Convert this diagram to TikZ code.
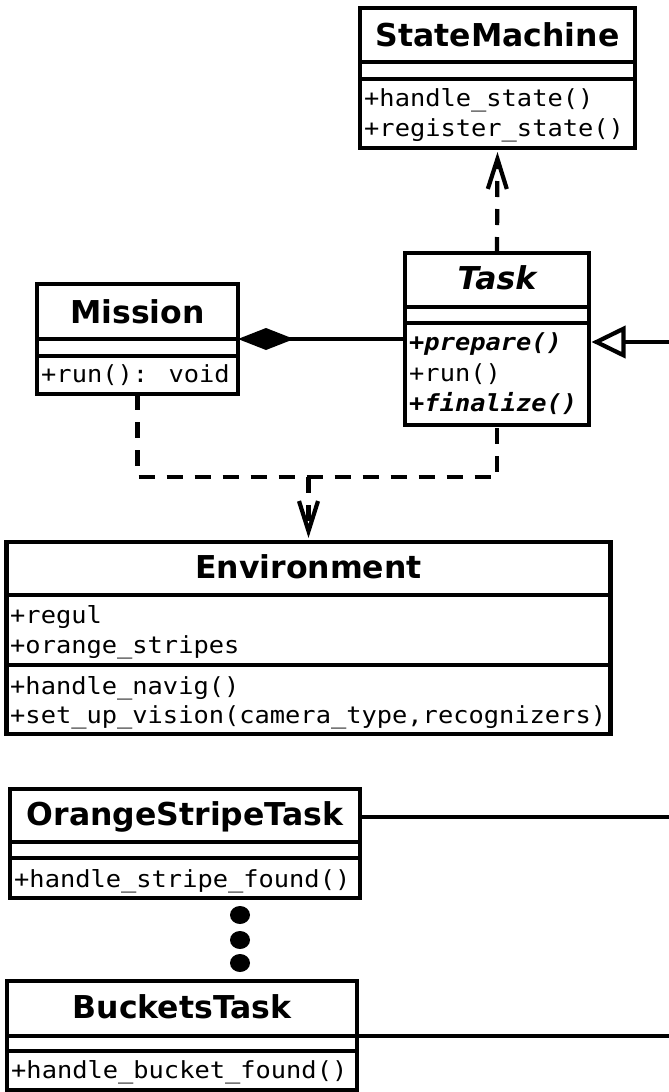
\documentclass[tikz,border=0pt]{standalone}
\usepackage{fontspec}
\newfontfamily\ttl{DejaVu Sans}
\newfontfamily\mono{DejaVu Sans Mono}[FakeStretch=1.08]
\usetikzlibrary{arrows.meta}
\tikzset{
  box/.style={draw, line width=4.2pt, inner sep=0pt, outer sep=0pt, rectangle},
  sep/.style={line width=4.2pt},
  title/.style={anchor=base, inner sep=0pt, font=\ttl\bfseries\fontsize{31.5}{31.5}\selectfont},
  ititle/.style={anchor=base, inner sep=0pt, font=\ttl\bfseries\itshape\fontsize{31.5}{31.5}\selectfont},
  member/.style={anchor=base west, inner sep=0pt, font=\mono\fontsize{23.5}{23.5}\selectfont},
  amember/.style={anchor=base west, inner sep=0pt, font=\mono\bfseries\itshape\fontsize{23.5}{23.5}\selectfont},
  conn/.style={line width=4.2pt},
  dep/.style={line width=4.2pt, dash pattern=on 16pt off 12pt, shorten >=4pt, -{Straight Barb[length=30pt,width=19pt,line width=4.2pt]}},
  dashline/.style={line width=4.2pt, dash pattern=on 16pt off 12pt},
  dotmark/.style={ellipse, fill, inner sep=0pt, minimum width=20pt, minimum height=18pt},
}
\usetikzlibrary{shapes.geometric}
\begin{document}
\begin{tikzpicture}[x=1pt,y=-1pt]
\useasboundingbox (0,0) rectangle (669,1092);

% StateMachine
\node[box, minimum width=275pt, minimum height=140pt, anchor=north west] (sm) at (360,8) {};
\draw[sep] (360,62) -- (635,62);
\draw[sep] (360,79) -- (635,79);
\node[title] (smt) at (497.5,46) {StateMachine};
\node[member] (sm1) at (364,106) {+handle\_state()};
\node[member] (sm2) at (364,136) {+register\_state()};

% Task
\node[box, minimum width=184pt, minimum height=172pt, anchor=north west] (task) at (405,253) {};
\draw[sep] (405,307) -- (589,307);
\draw[sep] (405,323) -- (589,323);
\node[ititle] (taskt) at (497,289) {Task};
\node[amember] (t1) at (409,350) {+prepare()};
\node[member] (t2) at (409,381) {+run()};
\node[amember] (t3) at (409,411) {+finalize()};

% Mission
\node[box, minimum width=201pt, minimum height=110pt, anchor=north west] (mission) at (37,284) {};
\draw[sep] (37,339) -- (238,339);
\draw[sep] (37,356) -- (238,356);
\node[title] (missiont) at (137.5,323) {Mission};
\node[member] (m1) at (41,382) {+run(): void};

% Environment
\node[box, minimum width=604pt, minimum height=192pt, anchor=north west] (env) at (6.5,542) {};
\draw[sep] (6.5,595) -- (610.5,595);
\draw[sep] (6.5,665) -- (610.5,665);
\node[title] (envt) at (308.5,578) {Environment};
\node[member] (e1) at (10,623) {+regul};
\node[member] (e2) at (10,653) {+orange\_stripes};
\node[member] (e3) at (10,694) {+handle\_navig()};
\node[member] (e4) at (10,723) {+set\_up\_vision(camera\_type,recognizers)};

% OrangeStripeTask
\node[box, minimum width=350pt, minimum height=109pt, anchor=north west] (ost) at (10,789) {};
\draw[sep] (10,842) -- (360,842);
\draw[sep] (10,858) -- (360,858);
\node[title] (ostt) at (185,825) {OrangeStripeTask};
\node[member] (o1) at (14,887) {+handle\_stripe\_found()};

% dots
\node[dotmark] (d1) at (240,915) {};
\node[dotmark] (d2) at (240,940) {};
\node[dotmark] (d3) at (240,963) {};

% BucketsTask
\node[box, minimum width=350pt, minimum height=109pt, anchor=north west] (bt) at (7,981) {};
\draw[sep] (7,1036) -- (357,1036);
\draw[sep] (7,1051) -- (357,1051);
\node[title] (btt) at (182,1018) {BucketsTask};
\node[member] (b1) at (11,1078) {+handle\_bucket\_found()};

% connectors
\coordinate (bus) at (308.5,477);
\coordinate (inhR) at (672,342);
\coordinate (ostR) at (672,817);
\coordinate (btR) at (672,1036);

\draw[dep] (task.north) -- (sm.south);
\draw[conn, -{Diamond[length=56pt,width=22pt]}] (task.west |- 0,339) -- (mission.east |- 0,339);
\draw[conn, shorten >=2.5pt, -{Triangle[open, length=34pt, width=32pt, fill=white]}] (inhR) -- (task.east |- inhR);
\draw[dashline] (mission.south) |- (bus) -| (task.south);
\draw[dep] (bus) -- (env.north);
\draw[conn] (ost.east |- ostR) -- (ostR);
\draw[conn] (bt.east |- btR) -- (btR);
\end{tikzpicture}
\end{document}
